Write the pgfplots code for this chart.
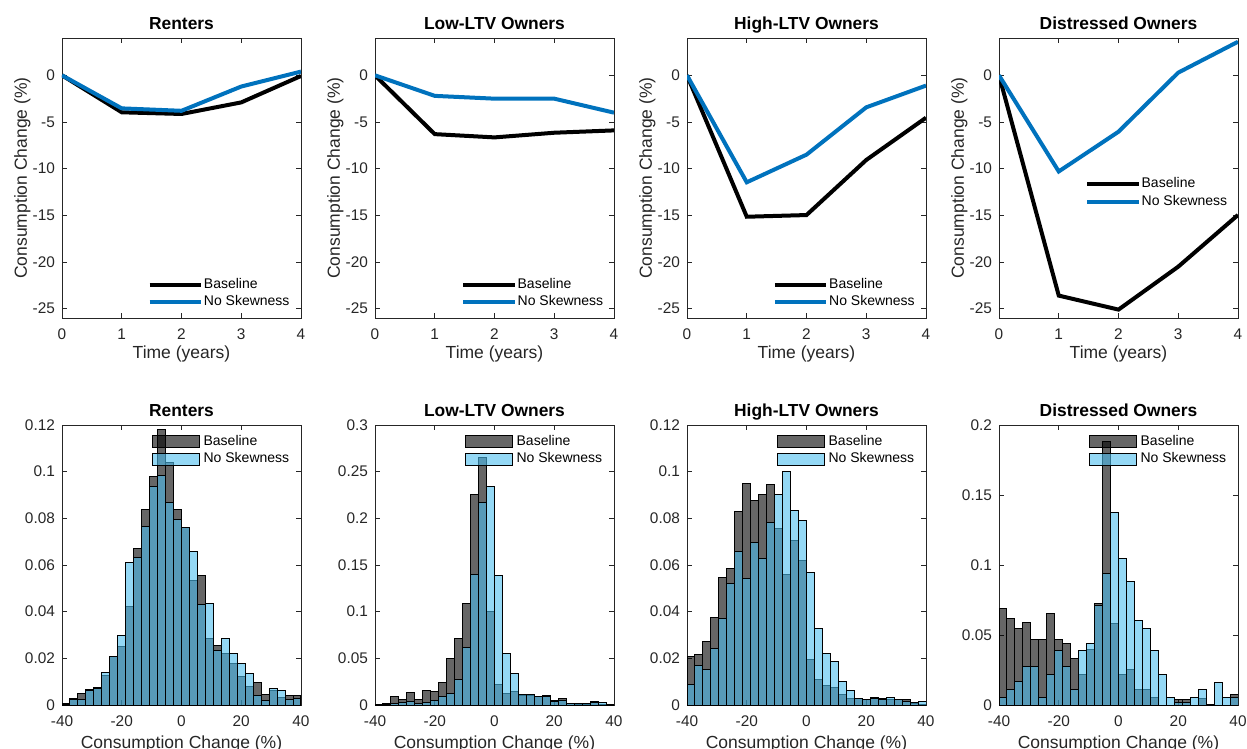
\documentclass[border=0pt]{standalone}
\usepackage{fontspec}
\setmainfont{Liberation Sans}
\usepackage{pgfplots}
\usepackage{pgfplotstable}
\pgfplotsset{compat=1.18}
\definecolor{mblue}{RGB}{0,114,189}
\definecolor{axgray}{RGB}{38,38,38}
\definecolor{hblue}{RGB}{77,190,238}

% histogram data: left bin edge, Baseline, No Skewness (last row closes the interval)
\pgfplotstableread{
x b n
-40 0.0008 0.0003
-37.333 0.0026 0.0022
-34.667 0.0050 0.0024
-32 0.0067 0.0064
-29.333 0.0073 0.0071
-26.667 0.0128 0.0138
-24 0.0210 0.0210
-21.333 0.0251 0.0297
-18.667 0.0421 0.0609
-16 0.0670 0.0634
-13.333 0.0836 0.0764
-10.667 0.0978 0.0936
-8 0.1180 0.0983
-5.333 0.1040 0.0866
-2.667 0.0836 0.0796
0 0.0760 0.0760
2.667 0.0533 0.0657
5.333 0.0556 0.0430
8 0.0284 0.0436
10.667 0.0255 0.0235
13.333 0.0222 0.0287
16 0.0180 0.0219
18.667 0.0122 0.0178
21.333 0.0079 0.0136
24 0.0097 0.0039
26.667 0.0044 0.0019
29.333 0.0062 0.0069
32 0.0033 0.0062
34.667 0.0039 0.0024
37.333 0.0039 0.0030
40 0.0039 0.0030
}\renters
\pgfplotstableread{
x b n
-40 0.0007 0.0004
-37.333 0.0018 0.0010
-34.667 0.0086 0.0018
-32 0.0054 0.0025
-29.333 0.0129 0.0036
-26.667 0.0054 0.0018
-24 0.0160 0.0025
-21.333 0.0140 0.0047
-18.667 0.0244 0.0090
-16 0.0500 0.0120
-13.333 0.0710 0.0276
-10.667 0.1090 0.0616
-8 0.2254 0.1400
-5.333 0.2650 0.2165
-2.667 0.1000 0.2340
0 0.0215 0.1390
2.667 0.0125 0.0550
5.333 0.0143 0.0340
8 0.0097 0.0110
10.667 0.0097 0.0110
13.333 0.0093 0.0090
16 0.0097 0.0090
18.667 0.0047 0.0036
21.333 0.0075 0.0047
24 0.0018 0.0018
26.667 0.0010 0.0018
29.333 0.0010 0.0018
32 0.0036 0.0025
34.667 0.0010 0.0025
37.333 0.0004 0.0004
40 0.0004 0.0004
}\lowltv
\pgfplotstableread{
x b n
-40 0.0210 0.0090
-37.333 0.0215 0.0170
-34.667 0.0272 0.0153
-32 0.0374 0.0244
-29.333 0.0546 0.0371
-26.667 0.0584 0.0519
-24 0.0829 0.0658
-21.333 0.0950 0.0542
-18.667 0.0877 0.0695
-16 0.0903 0.0629
-13.333 0.0945 0.0781
-10.667 0.0757 0.0903
-8 0.0559 0.1000
-5.333 0.0707 0.0832
-2.667 0.0619 0.0789
0 0.0197 0.0570
2.667 0.0110 0.0327
5.333 0.0085 0.0222
8 0.0073 0.0186
10.667 0.0043 0.0100
13.333 0.0026 0.0064
16 0.0029 0.0029
18.667 0.0024 0.0022
21.333 0.0034 0.0026
24 0.0029 0.0022
26.667 0.0024 0.0034
29.333 0.0022 0.0024
32 0.0022 0.0015
34.667 0.0007 0.0011
37.333 0.0004 0.0014
40 0.0004 0.0014
}\highltv
\pgfplotstableread{
x b n
-40 0.0690 0.0057
-37.333 0.0620 0.0110
-34.667 0.0545 0.0167
-32 0.0586 0.0274
-29.333 0.0470 0.0274
-26.667 0.0470 0.0057
-24 0.0655 0.0220
-21.333 0.0470 0.0388
-18.667 0.0436 0.0274
-16 0.0330 0.0110
-13.333 0.0220 0.0388
-10.667 0.0400 0.0440
-8 0.0726 0.0714
-5.333 0.1880 0.0936
-2.667 0.0583 0.1376
0 0.0220 0.1048
2.667 0.0257 0.0879
5.333 0.0114 0.0607
8 0.0114 0.0550
10.667 0.0055 0.0388
13.333 0.0000 0.0220
16 0.0000 0.0057
18.667 0.0036 0.0019
21.333 0.0036 0.0019
24 0.0000 0.0057
26.667 0.0043 0.0114
29.333 0.0000 0.0005
32 0.0000 0.0164
34.667 0.0000 0.0057
37.333 0.0074 0.0057
40 0.0074 0.0057
}\distressed

\pgfplotsset{
  every axis title shift=0pt,
  base/.style={
    scale only axis, width=119.5pt, height=140pt,
    axis line style={axgray, line width=0.4pt},
    tick style={axgray, line width=0.4pt},
    major tick length=2.5pt,
    tick label style={font=\fontsize{7.7}{9}\selectfont, text=axgray},
    xticklabel style={anchor=base, yshift=-10.75pt},
    label style={font=\fontsize{8.75}{10}\selectfont, text=axgray},
    title style={font=\fontsize{8.7}{10}\selectfont\bfseries, at={(axis description cs:0.5,1.032)}, anchor=base},
    ylabel style={at={(axis description cs:-0.166,0.5)}, anchor=center},
    legend style={draw=none, fill=none, font=\fontsize{7}{8}\selectfont, inner sep=0pt, legend cell align=left},
  },
  lineax/.style={base,
    xmin=0, xmax=4, ymin=-26, ymax=4,
    xtick={0,1,2,3,4}, xticklabels={0,1,2,3,4},
    ytick={-25,-20,-15,-10,-5,0}, yticklabels={-25,-20,-15,-10,-5,0},
    xlabel={Time (years)}, ylabel={Consumption Change (\%)},
    xlabel style={at={(axis description cs:0.5,-0.144)}, anchor=base},
    legend style={nodes={inner xsep=0.4pt, inner ysep=1.1pt}},
    legend image code/.code={\draw[##1] (0pt,0pt) -- (25.7pt,0pt);},
  },
  histax/.style={base,
    xmin=-40, xmax=40, ymin=0,
    xtick={-40,-20,0,20,40}, xticklabels={-40,-20,0,20,40},
    xlabel={Consumption Change (\%)},
    xlabel style={at={(axis description cs:0.5,-0.154)}, anchor=base},
    legend style={nodes={inner ysep=1.1pt}, at={(axis description cs:0.375,0.973)}, anchor=north west},
  },
  hb/.style={ybar interval, fill=black, fill opacity=0.6, draw=black, line width=0.5pt,
    legend image code/.code={\draw[##1] (0pt,-3.125pt) rectangle (23.3pt,3.125pt);}},
  hn/.style={ybar interval, fill=hblue, fill opacity=0.6, draw=black, line width=0.5pt,
    legend image code/.code={\draw[##1] (0pt,-3.125pt) rectangle (23.3pt,3.125pt);}},
  lb/.style={black, line width=2pt},
  ln/.style={mblue, line width=2pt},
}

\begin{document}
\begin{tikzpicture}
\path[use as bounding box] (0,0) rectangle (623.5pt,-374.5pt);

% ---------- top row ----------
\begin{axis}[lineax, at={(31pt,-19pt)}, anchor=north west, title={Renters},
  legend style={at={(axis description cs:0.357,0.023)}, anchor=south west}]
\addplot[lb] coordinates {(0,0) (1,-3.96) (2,-4.14) (3,-2.9) (4,-0.07)};
\addplot[ln] coordinates {(0,0) (1,-3.54) (2,-3.8) (3,-1.2) (4,0.4)};
\legend{Baseline, No Skewness}
\end{axis}

\begin{axis}[lineax, at={(187.5pt,-19pt)}, anchor=north west, title={Low-LTV Owners},
  legend style={at={(axis description cs:0.36,0.023)}, anchor=south west}]
\addplot[lb] coordinates {(0,0) (1,-6.3) (2,-6.65) (3,-6.15) (4,-5.9)};
\addplot[ln] coordinates {(0,0) (1,-2.2) (2,-2.5) (3,-2.5) (4,-4.0)};
\legend{Baseline, No Skewness}
\end{axis}

\begin{axis}[lineax, at={(343.5pt,-19pt)}, anchor=north west, title={High-LTV Owners},
  legend style={at={(axis description cs:0.358,0.023)}, anchor=south west}]
\addplot[lb] coordinates {(0,0) (1,-15.15) (2,-14.97) (3,-9.07) (4,-4.54)};
\addplot[ln] coordinates {(0,0) (1,-11.46) (2,-8.5) (3,-3.43) (4,-1.1)};
\legend{Baseline, No Skewness}
\end{axis}

\begin{axis}[lineax, at={(499.5pt,-19pt)}, anchor=north west, title={Distressed Owners},
  legend style={at={(axis description cs:0.36,0.383)}, anchor=south west}]
\addplot[lb] coordinates {(0,0) (1,-23.6) (2,-25.1) (3,-20.5) (4,-14.96)};
\addplot[ln] coordinates {(0,0) (1,-10.3) (2,-6.04) (3,0.29) (4,3.6)};
\legend{Baseline, No Skewness}
\end{axis}

% ---------- bottom row ----------
\begin{axis}[histax, at={(31pt,-212.5pt)}, anchor=north west, title={Renters},
  ymax=0.12, ytick={0,0.02,0.04,0.06,0.08,0.1,0.12},
  yticklabels={0,0.02,0.04,0.06,0.08,0.1,0.12}]
\addplot[hb] table[x=x,y=b] {\renters};
\addplot[hn] table[x=x,y=n] {\renters};
\legend{Baseline, No Skewness}
\end{axis}

\begin{axis}[histax, at={(187.5pt,-212.5pt)}, anchor=north west, title={Low-LTV Owners},
  ymax=0.3, ytick={0,0.05,0.1,0.15,0.2,0.25,0.3},
  yticklabels={0,0.05,0.1,0.15,0.2,0.25,0.3}]
\addplot[hb] table[x=x,y=b] {\lowltv};
\addplot[hn] table[x=x,y=n] {\lowltv};
\legend{Baseline, No Skewness}
\end{axis}

\begin{axis}[histax, at={(343.5pt,-212.5pt)}, anchor=north west, title={High-LTV Owners},
  ymax=0.12, ytick={0,0.02,0.04,0.06,0.08,0.1,0.12},
  yticklabels={0,0.02,0.04,0.06,0.08,0.1,0.12}]
\addplot[hb] table[x=x,y=b] {\highltv};
\addplot[hn] table[x=x,y=n] {\highltv};
\legend{Baseline, No Skewness}
\end{axis}

\begin{axis}[histax, at={(499.5pt,-212.5pt)}, anchor=north west, title={Distressed Owners},
  ymax=0.2, ytick={0,0.05,0.1,0.15,0.2},
  yticklabels={0,0.05,0.1,0.15,0.2}]
\addplot[hb] table[x=x,y=b] {\distressed};
\addplot[hn] table[x=x,y=n] {\distressed};
\legend{Baseline, No Skewness}
\end{axis}
\end{tikzpicture}
\end{document}
